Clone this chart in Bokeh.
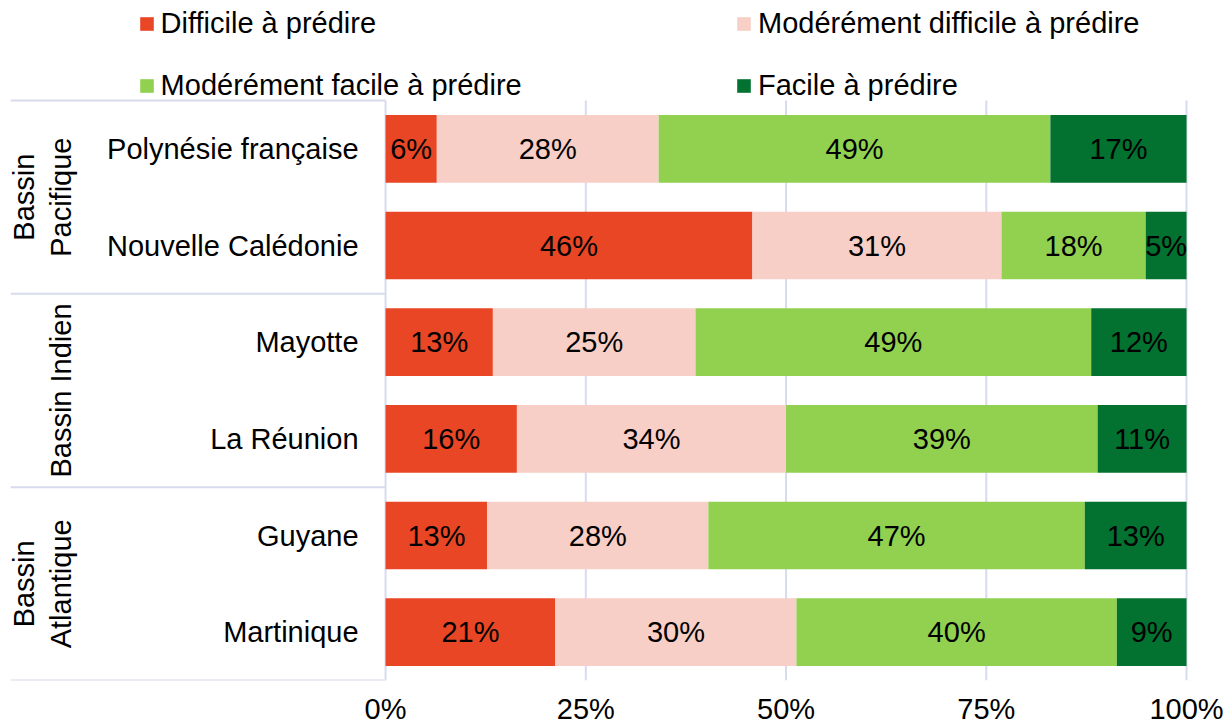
import numpy as np
from bokeh.plotting import figure
from bokeh.models import (Range1d, ColumnDataSource, Legend, LegendItem,
                          FixedTicker, PrintfTickFormatter)
from bokeh.core.properties import value
from bokeh.embed import file_html
from bokeh.resources import INLINE

# ---------------- data ----------------
countries = ["Polynésie française", "Nouvelle Calédonie", "Mayotte",
             "La Réunion", "Guyane", "Martinique"]
groups = ["Bassin\nPacifique", "Bassin Indien", "Bassin\nAtlantique"]
group_sizes = [2, 2, 2]
series_names = ["Difficile à prédire", "Modérément difficile à prédire",
                "Modérément facile à prédire", "Facile à prédire"]
difficile = [6.4, 45.8, 13.4, 16.4, 12.7, 21.2]
mod_difficile = [27.7, 31.1, 25.3, 33.6, 27.6, 30.1]
mod_facile = [48.9, 18.0, 49.4, 38.9, 47.0, 40.0]
facile = [17.0, 5.1, 11.9, 11.1, 12.7, 8.7]
x_ticks = [0, 25, 50, 75, 100]

# ---------------- style ----------------
colors = ["#E94625", "#F8CFC6", "#92D050", "#03712F"]
grid_color = "#D6DCEE"
FONT = "Liberation Sans"
FS = "29px"

n = len(countries)
y_rows = [n - i - 0.5 for i in range(n)]

p = figure(width=1226, height=728, output_backend="svg", toolbar_location=None,
           x_range=Range1d(-48.07, 104.99), y_range=Range1d(0, 7.0345),
           y_axis_location=None,
           min_border_left=0, min_border_right=0, min_border_top=0,
           min_border_bottom=48)
p.outline_line_color = None
p.xgrid.visible = False
p.ygrid.visible = False
p.background_fill_color = "white"
p.border_fill_color = "white"

# x axis
xa = p.xaxis[0]
xa.ticker = FixedTicker(ticks=x_ticks)
xa.formatter = PrintfTickFormatter(format="%d%%")
xa.axis_line_color = None
xa.major_tick_line_color = None
xa.minor_tick_line_color = None
xa.major_label_standoff = 6
xa.major_label_text_font = FONT
xa.major_label_text_font_size = FS
xa.major_label_text_color = "black"

# vertical grid lines (behind bars)
p.segment(x0=x_ticks, x1=x_ticks, y0=0, y1=n, line_color=grid_color, line_width=2)

# horizontal separators in the label area
bounds = [n - sum(group_sizes[:g]) for g in range(len(groups) + 1)]
p.segment(x0=-46.8, x1=0, y0=bounds, y1=bounds, line_color=grid_color, line_width=2)

# stacked bars
vals = np.array([difficile, mod_difficile, mod_facile, facile])
rights = np.cumsum(vals, axis=0)
lefts = rights - vals
renderers = []
for k in range(len(series_names)):
    src = ColumnDataSource(dict(
        y=y_rows, left=lefts[k], right=rights[k],
        mid=(lefts[k] + rights[k]) / 2,
        lab=[f"{int(round(v))}%" for v in vals[k]],
    ))
    r = p.hbar(y="y", left="left", right="right", height=0.7, source=src,
               fill_color=colors[k], line_color=None)
    renderers.append(r)
    p.text(x="mid", y="y", text="lab", source=src, text_align="center",
           text_baseline="middle", text_font=value(FONT), text_font_size=FS,
           text_color="black")

# country labels
p.text(x=-3.37, y=y_rows, text=countries, text_align="right",
       text_baseline="middle", text_font=value(FONT), text_font_size=FS,
       text_color="black")

# group labels (rotated)
g_centers = [(bounds[g] + bounds[g + 1]) / 2 for g in range(len(groups))]
p.text(x=-38.5, y=g_centers, text=groups, angle=np.pi / 2,
       text_align="center", text_baseline="bottom", text_font=value(FONT),
       text_font_size=FS, text_color="black", text_line_height=1.17)

# legends (two columns)
def make_legend(idx, loc):
    lg = Legend(items=[LegendItem(label=series_names[i], renderers=[renderers[i]])
                       for i in idx],
                location=loc, orientation="vertical")
    lg.background_fill_alpha = 0
    lg.border_line_alpha = 0
    lg.padding = 0
    lg.margin = 0
    lg.spacing = 28
    lg.glyph_width = 17
    lg.glyph_height = 17
    lg.label_height = 34
    lg.label_standoff = 6
    lg.label_text_font = FONT
    lg.label_text_font_size = FS
    lg.label_text_color = "black"
    return lg

p.add_layout(make_legend([0, 2], (137.6, 577.5)))
p.add_layout(make_legend([1, 3], (735.0, 577.5)))

open("out.html", "w").write(file_html(p, INLINE))
